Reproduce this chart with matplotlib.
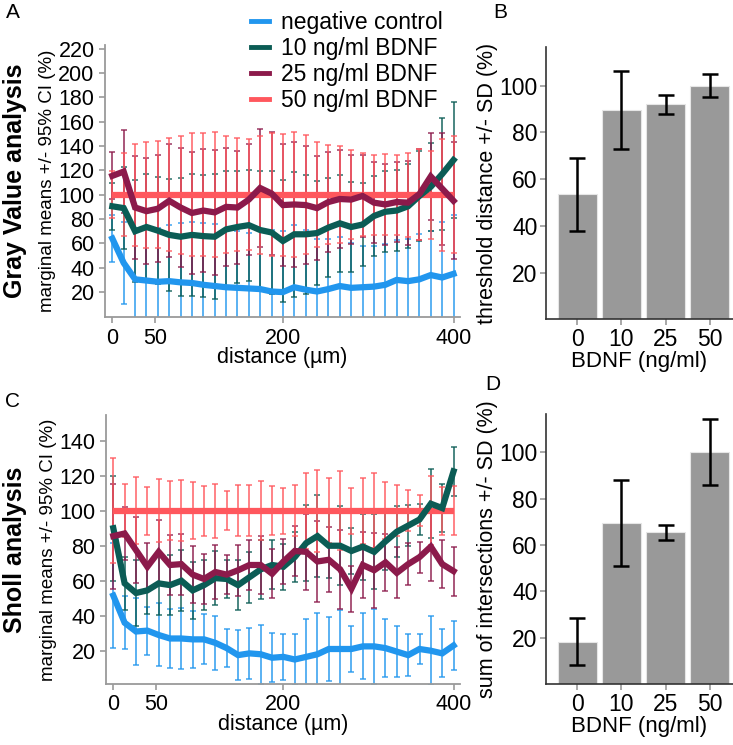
import numpy as np
import matplotlib
matplotlib.use("Agg")
import matplotlib.pyplot as plt
from matplotlib.lines import Line2D

plt.rcParams['font.family'] = ['Liberation Sans', 'DejaVu Sans']

# distance grid (µm), 31 shells
distance = [0, 13.3, 26.7, 40, 53.3, 66.7, 80, 93.3, 106.7, 120, 133.3, 146.7, 160,
            173.3, 186.7, 200, 213.3, 226.7, 240, 253.3, 266.7, 280, 293.3, 306.7,
            320, 333.3, 346.7, 360, 373.3, 386.7, 400]

groups = ['negative control', '10 ng/ml BDNF', '25 ng/ml BDNF', '50 ng/ml BDNF']
colors = ['#2196EE', '#0B5C55', '#8C1A4B', '#FF575D']

# Gray value analysis: marginal means (%)
gv_neg = [64, 44, 30.5, 29.5, 28.5, 29, 28, 27.5, 26, 25, 24, 23.5, 23, 22.5, 20.5, 20,
          24, 22, 20.5, 22.5, 25, 23.5, 24, 24.5, 26, 30, 29, 30.5, 34, 32, 35]
gv_10 = [90.5, 89, 70, 73.5, 70.5, 67, 65.5, 67, 66, 65.5, 71.5, 73.5, 75, 71, 69, 62,
         67.5, 67.5, 68.5, 73, 76.5, 73.5, 75.5, 82.5, 86, 87, 90.5, 99, 106.5, 117, 128.5]
gv_25 = [115.5, 119, 89.5, 86.5, 88.5, 95, 89.5, 85, 87, 85.5, 90, 89.5, 96, 105.5, 101, 91.5,
         92, 91.5, 89, 94, 96.5, 96, 99, 93.5, 92, 94, 93.5, 100.5, 115, 105, 95]
gv_50 = [100, 100, 100, 100, 100, 100, 100, 100, 100, 100, 100, 100, 100, 100, 100, 100,
         100, 100, 100, 100, 100, 100, 100, 100, 100, 100, 100, 100, 100, 100, 100]
# half width of the 95% CI (same for all groups at a distance)
gv_ci = [19.4, 34, 42, 43.5, 44, 46.3, 48.5, 50.4, 50.4, 51.2, 48.2, 46.3, 45.5, 48.5, 50.5, 50,
         51.5, 48.8, 43, 40.8, 40, 36.7, 34, 33, 33.4, 33, 34.5, 37.3, 36, 46, 48]

# Sholl analysis: marginal means (%)
sh_neg = [51.5, 36, 31, 31.5, 29, 27, 27, 26.5, 26.5, 24.5, 21.5, 17.5, 18.5, 18, 16, 16.5,
          15, 16.5, 18, 21, 21, 21, 22.5, 22.5, 21.5, 19.5, 17.5, 21, 20, 18.5, 23]
sh_10 = [90, 58.5, 53, 54.5, 58.5, 57.5, 60, 54.5, 57.5, 61.5, 61, 57.5, 62, 66.5, 69, 68,
         73.5, 81.5, 85.5, 80, 80, 77, 79.5, 76.5, 82.5, 88, 91.5, 95, 104, 101.5, 122.5]
sh_25 = [85.5, 87, 77.5, 68, 76.5, 69, 69.5, 63.5, 61, 65, 63.5, 66, 69, 69, 64, 71,
         77, 76.5, 71, 72, 66.5, 55.5, 69, 66, 70.5, 64.5, 69.5, 73.5, 79.5, 69.5, 65.5]
sh_50 = [100, 100, 100, 100, 100, 100, 100, 100, 100, 100, 100, 100, 100, 100, 100, 100,
         100, 100, 100, 100, 100, 100, 100, 100, 100, 100, 100, 100, 100, 100, 100]
sh_ci = [30, 15, 19, 13.7, 18, 17, 17.4, 16.2, 14.3, 15.3, 11, 14.5, 14.5, 16.8, 14, 13.1,
         14.5, 21.7, 23.3, 18.5, 22.5, 13.1, 18.9, 21.4, 16.4, 14.5, 11.8, 8.8, 19.8, 13.7, 14]

# bar panels
bdnf = ['0', '10', '25', '50']
threshold = [53.5, 89.5, 92, 100]
threshold_sd = [15.5, 16.8, 4.2, 4.8]
intersections = [18.3, 69.6, 65.4, 100]
intersections_sd = [10.2, 18.5, 3.4, 14.2]

W, H = 733, 745
fig = plt.figure(figsize=(W / 100, H / 100), dpi=100)


def box(l, t, r, b):
    return [l / W, 1 - b / H, (r - l) / W, (b - t) / H]


def line_panel(ax, series, ci, ylim, yticks):
    x = np.array(distance)
    for k, (vals, c) in enumerate(zip(series, colors)):
        ax.errorbar(x, vals, yerr=ci, fmt='none', ecolor=c, elinewidth=1.3,
                    capsize=2, capthick=1.2, alpha=0.8, zorder=2 + k * 0.1)
    ax.plot(x, series[3], color=colors[3], lw=4.5, zorder=3, solid_capstyle='butt')
    for vals, c in zip(series[:3], colors[:3]):
        ax.plot(x, vals, color=c, lw=4.5, zorder=4, solid_joinstyle='miter')
    ax.set_xlim(-8.6, 407.6)
    ax.set_ylim(*ylim)
    ax.set_xticks([0, 50, 200, 400])
    ax.set_yticks(yticks)
    ax.set_xlabel('distance (µm)', fontsize=15.5, labelpad=-1)
    for s in ['top', 'right']:
        ax.spines[s].set_visible(False)
    for s in ['left', 'bottom']:
        ax.spines[s].set_color('#9A9A9A')
        ax.spines[s].set_linewidth(1.3)
    ax.tick_params(colors='#9A9A9A', labelcolor='black', length=4, width=1.2,
                   labelsize=15.5)


def bar_panel(ax, vals, sd, ylabel):
    xs = np.arange(len(bdnf))
    ax.bar(xs, vals, width=0.88, color='#999999', edgecolor='#E6E6E6', linewidth=0.8)
    ax.errorbar(xs, vals, yerr=sd, fmt='none', ecolor='black', elinewidth=1.8,
                capsize=6, capthick=1.8)
    ax.set_xlim(-0.71, 3.53)
    ax.set_xticks(xs)
    ax.set_xticklabels(bdnf)
    ax.set_yticks([20, 40, 60, 80, 100])
    ax.set_xlabel('BDNF (ng/ml)', fontsize=16, labelpad=0)
    ax.set_ylabel(ylabel, fontsize=15.5, labelpad=1)
    for s in ['top', 'right']:
        ax.spines[s].set_visible(False)
    for s in ['left', 'bottom']:
        ax.spines[s].set_color('#333333')
        ax.spines[s].set_linewidth(1.2)
    ax.tick_params(colors='#9A9A9A', labelcolor='black', length=4, width=1.2,
                   labelsize=16.5, pad=2)


axA = fig.add_axes(box(105, 45, 460, 317.3))
line_panel(axA, [gv_neg, gv_10, gv_25, gv_50], gv_ci, (-0.7, 223),
           [20, 40, 60, 80, 100, 120, 140, 160, 180, 200, 220])
axA.set_ylabel('marginal means +/- 95% CI (%)', fontsize=13.5, labelpad=2)

axC = fig.add_axes(box(106, 415, 460, 684))
line_panel(axC, [sh_neg, sh_10, sh_25, sh_50], sh_ci, (1, 154.7),
           [20, 40, 60, 80, 100, 120, 140])
axC.set_ylabel('marginal means +/- 95% CI (%)', fontsize=13.5, labelpad=2)

axB = fig.add_axes(box(546, 46.7, 733, 319.3))
bar_panel(axB, threshold, threshold_sd, 'threshold distance +/- SD (%)')
axB.set_ylim(0, 116.7)

axD = fig.add_axes(box(546, 414.3, 733, 684.3))
bar_panel(axD, intersections, intersections_sd, 'sum of intersections +/- SD (%)')
axD.set_ylim(0, 116.3)

fig.text(15 / W, 1 - 181 / H, 'Gray Value analysis', rotation=90, fontsize=18,
         fontweight='bold', ha='center', va='center')
fig.text(15 / W, 1 - 550 / H, 'Sholl analysis', rotation=90, fontsize=18,
         fontweight='bold', ha='center', va='center')

for lab, x, y in [('A', 13, 12), ('B', 500, 12.5), ('C', 13, 402), ('D', 493, 384)]:
    fig.text(x / W, 1 - y / H, lab, fontsize=15, ha='center', va='center')

handles = [Line2D([], [], color=c, lw=3.5) for c in colors]
fig.legend(handles, groups, loc='upper left', bbox_to_anchor=(251 / W, 1 - 11 / H),
           frameon=False, fontsize=16.5, handlelength=0.8, handletextpad=0.5,
           labelspacing=0.13, borderaxespad=0, borderpad=0)

fig.savefig('out.png', dpi=100)
